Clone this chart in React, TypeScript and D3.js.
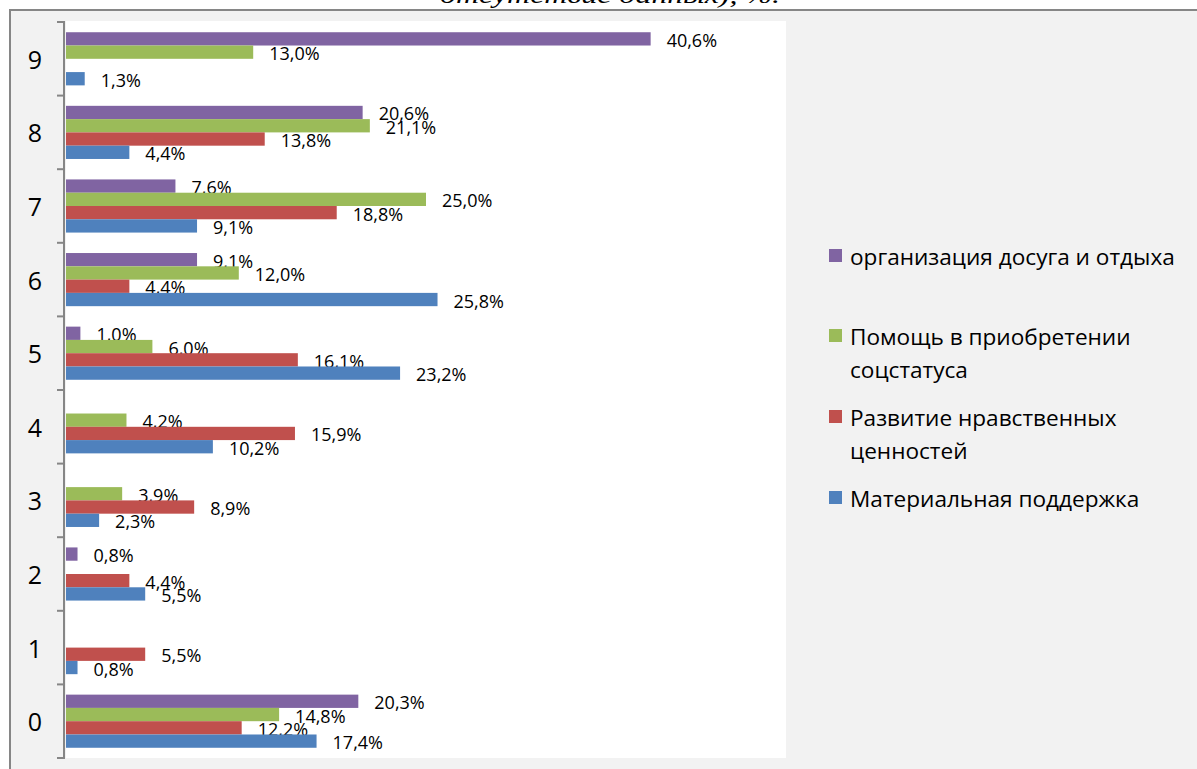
import React from "react";
import * as d3 from "d3";

const categories = ["9", "8", "7", "6", "5", "4", "3", "2", "1", "0"];
const seriesNames = [
  "организация досуга и отдыха",
  "Помощь в приобретении соцстатуса",
  "Развитие нравственных ценностей",
  "Материальная поддержка",
];
const seriesColors = ["#8064a2", "#9bbb59", "#c0504d", "#4f81bd"];
// values per category (order matches categories: 9..0)
const leisure: (number | null)[] = [40.6, 20.6, 7.6, 9.1, 1.0, null, null, 0.8, null, 20.3];
const socialStatus: (number | null)[] = [13.0, 21.1, 25.0, 12.0, 6.0, 4.2, 3.9, null, null, 14.8];
const moralValues: (number | null)[] = [null, 13.8, 18.8, 4.4, 16.1, 15.9, 8.9, 4.4, 5.5, 12.2];
const materialSupport: (number | null)[] = [1.3, 4.4, 9.1, 25.8, 23.2, 10.2, 2.3, 5.5, 0.8, 17.4];
const seriesValues = [leisure, socialStatus, moralValues, materialSupport];
const legendLines = [
  ["организация досуга и отдыха"],
  ["Помощь в приобретении", "соцстатуса"],
  ["Развитие нравственных", "ценностей"],
  ["Материальная поддержка"],
];
const legendY = [256, 336, 417, 498];
const titleText = "отсутствие данных), %.";

const W = 1197;
const H = 769;
const plot = { left: 66, right: 786, top: 22, bottom: 758 };
const font = "'Open Sans', 'Noto Sans', sans-serif";

export default function App() {
  const x = d3.scaleLinear().domain([0, 50]).range([plot.left, plot.right]);
  const y = d3.scaleBand<string>().domain(categories).range([plot.top, plot.bottom]);
  const inner = d3
    .scaleBand<string>()
    .domain(seriesNames)
    .range([0, y.bandwidth()])
    .paddingInner(0)
    .paddingOuter(0.77);
  const fmt = (v: number) => v.toFixed(1).replace(".", ",") + "%";
  const tickYs = [...categories.map((c) => y(c)!), plot.bottom];
  const grey = "#868686";

  return (
    <div style={{ position: "absolute", left: 0, top: 0 }}>
      <svg width={W} height={H} style={{ display: "block" }}>
        <rect x={0} y={0} width={W} height={H} fill="#ffffff" />
        <text
          x={610}
          y={3}
          textAnchor="middle"
          fontFamily="'Liberation Serif', 'DejaVu Serif', serif"
          fontStyle="italic"
          fontSize={24}
          textLength={340}
          lengthAdjust="spacingAndGlyphs"
          fill="#000"
        >
          {titleText}
        </text>
        <rect x={10} y={10} width={W} height={H} fill="#f2f2f2" stroke={grey} strokeWidth={2} />
        <rect x={plot.left} y={plot.top - 1} width={plot.right - plot.left} height={plot.bottom - plot.top + 1} fill="#ffffff" />
        {/* bars */}
        {seriesValues.map((vals, si) =>
          vals.map((v, ci) => {
            if (v === null) return null;
            const yy = y(categories[ci])! + inner(seriesNames[si])!;
            return (
              <g key={`${si}-${ci}`}>
                <rect
                  x={x(0)}
                  y={yy}
                  width={x(v) - x(0)}
                  height={inner.bandwidth()}
                  fill={seriesColors[si]}
                />
                <text
                  x={x(v) + 16}
                  y={yy + inner.bandwidth() / 2 + 1}
                  dominantBaseline="central"
                  fontFamily={font}
                  fontSize={18}
                  fill="#000"
                >
                  {fmt(v)}
                </text>
              </g>
            );
          })
        )}
        {/* axis */}
        <line x1={64} x2={64} y1={plot.top} y2={plot.bottom + 1} stroke={grey} strokeWidth={2} />
        {tickYs.map((ty, i) => (
          <line key={i} x1={57} x2={65} y1={ty} y2={ty} stroke={grey} strokeWidth={2} />
        ))}
        {categories.map((c) => (
          <text
            key={c}
            x={35}
            y={y(c)! + y.bandwidth() / 2}
            textAnchor="middle"
            dominantBaseline="central"
            fontFamily={font}
            fontSize={25}
            fill="#000"
          >
            {c}
          </text>
        ))}
        {/* legend */}
        {legendLines.map((lines, i) => (
          <g key={i}>
            <rect x={829} y={legendY[i] - 7} width={13} height={13} fill={seriesColors[i]} />
            {lines.map((ln, li) => (
              <text
                key={li}
                x={850}
                y={legendY[i] + li * 33}
                dominantBaseline="central"
                fontFamily={font}
                fontSize={22.6}
                fill="#000"
              >
                {ln}
              </text>
            ))}
          </g>
        ))}
      </svg>
    </div>
  );
}
